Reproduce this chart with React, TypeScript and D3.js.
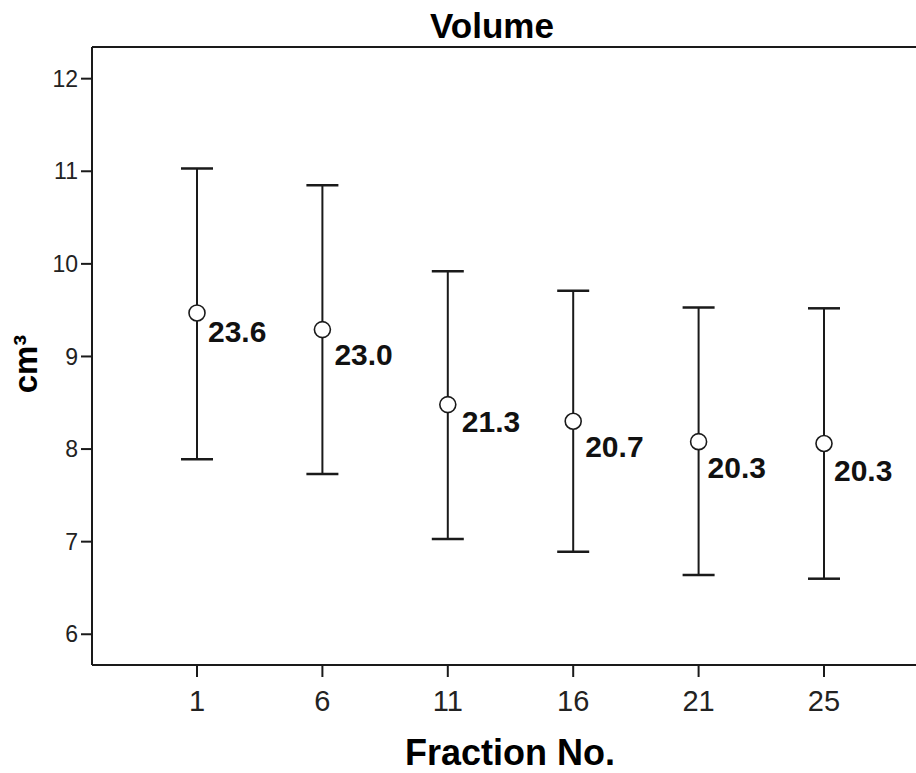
import React from "react";
import * as d3 from "d3";

const categories = ["1", "6", "11", "16", "21", "25"];
const means = [9.47, 9.29, 8.48, 8.3, 8.08, 8.06];
const upper = [11.03, 10.85, 9.92, 9.71, 9.53, 9.52];
const lower = [7.89, 7.73, 7.03, 6.89, 6.64, 6.6];
const valueLabels = ["23.6", "23.0", "21.3", "20.7", "20.3", "20.3"];
const yTicks = [6, 7, 8, 9, 10, 11, 12];

// label placement offsets (layout)
const labelDx = [11, 12, 14, 12, 9, 10];
const labelDy = [29, 35, 27, 36, 36, 37];

const W = 916;
const H = 773;
const left = 92;
const right = 930;
const top = 47;
const bottom = 665;
const font = "'Liberation Sans', Arial, Helvetica, sans-serif";
const ink = "#1a1a1a";

export default function App() {
  const x = d3.scalePoint<string>().domain(categories).range([197, 824]);
  const y = d3.scaleLinear().domain([5.668, 12.342]).range([bottom, top]);
  const capHalf = 16;

  return (
    <svg
      width={W}
      height={H}
      style={{ position: "absolute", left: 0, top: 0, display: "block", background: "#fff" }}
    >
      <rect x={0} y={0} width={W} height={H} fill="#fff" />
      {/* title */}
      <text x={492} y={38} textAnchor="middle" fontFamily={font} fontWeight="bold" fontSize={35} fill="#000">
        Volume
      </text>
      {/* frame */}
      <line x1={left} x2={right} y1={top} y2={top} stroke={ink} strokeWidth={2} />
      <line x1={left} x2={right} y1={bottom} y2={bottom} stroke={ink} strokeWidth={2} />
      <line x1={left} x2={left} y1={top} y2={bottom} stroke={ink} strokeWidth={2} />
      {/* y ticks */}
      {yTicks.map((t) => (
        <g key={t}>
          <line x1={left - 11} x2={left} y1={y(t)} y2={y(t)} stroke={ink} strokeWidth={2} />
          <text
            x={left - 14}
            y={y(t)}
            dy="0.35em"
            textAnchor="end"
            fontFamily={font}
            fontSize={23}
            fill="#222"
          >
            {t}
          </text>
        </g>
      ))}
      {/* x ticks */}
      {categories.map((c) => (
        <g key={c}>
          <line x1={x(c)} x2={x(c)} y1={bottom} y2={bottom + 12} stroke={ink} strokeWidth={2} />
          <text x={x(c)} y={711} textAnchor="middle" fontFamily={font} fontSize={29} fill="#222">
            {c}
          </text>
        </g>
      ))}
      {/* axis titles */}
      <text x={510} y={765} textAnchor="middle" fontFamily={font} fontWeight="bold" fontSize={36} fill="#000">
        Fraction No.
      </text>
      <text
        transform={`translate(37,364) rotate(-90)`}
        textAnchor="middle"
        fontFamily={font}
        fontWeight="bold"
        fontSize={33}
        fill="#000"
      >
        cm³
      </text>
      {/* error bars */}
      {categories.map((c, i) => {
        const cx = x(c) as number;
        return (
          <g key={"e" + c}>
            <line x1={cx} x2={cx} y1={y(upper[i])} y2={y(lower[i])} stroke={ink} strokeWidth={2} />
            <line x1={cx - capHalf} x2={cx + capHalf} y1={y(upper[i])} y2={y(upper[i])} stroke={ink} strokeWidth={2.5} />
            <line x1={cx - capHalf} x2={cx + capHalf} y1={y(lower[i])} y2={y(lower[i])} stroke={ink} strokeWidth={2.5} />
            <circle cx={cx} cy={y(means[i])} r={8} fill="#fff" stroke={ink} strokeWidth={1.6} />
            <text
              x={cx + labelDx[i]}
              y={y(means[i]) + labelDy[i]}
              fontFamily={font}
              fontWeight="bold"
              fontSize={30}
              fill="#111"
            >
              {valueLabels[i]}
            </text>
          </g>
        );
      })}
    </svg>
  );
}
